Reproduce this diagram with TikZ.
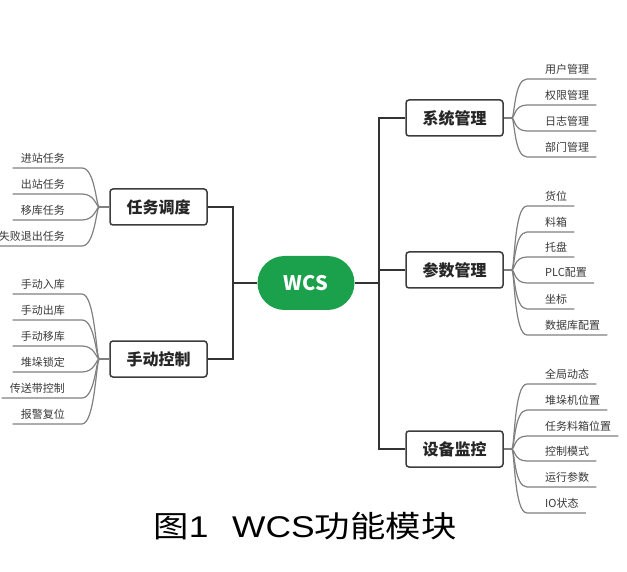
\documentclass[tikz,border=0pt]{standalone}
\usepackage{fontspec}
\setmainfont{Liberation Sans}
\newfontfamily\cjk{Noto Sans CJK SC}
\usetikzlibrary{calc}
\definecolor{wcsgreen}{HTML}{1BA14B}
\definecolor{mainline}{HTML}{333333}
\definecolor{leafline}{HTML}{808080}
\definecolor{boxline}{HTML}{3C3C3C}
\begin{document}
\begin{tikzpicture}[x=1pt,y=-1pt,
  topic/.style={draw=boxline, line width=1.5pt, fill=white, rounded corners=3pt,
    minimum width=97pt, minimum height=36pt, inner sep=0pt,
    font=\cjk\bfseries\fontsize{16}{16}\selectfont, text=black!85},
  root/.style={fill=wcsgreen, rounded corners=27pt, minimum width=97pt, minimum height=54pt,
    inner sep=0pt, text=white, font=\cjk\bfseries\fontsize{20}{20}\selectfont},
  leaf/.style={inner sep=0pt, text=black!78, font=\cjk\fontsize{11}{11}\selectfont},
  conn/.style={draw=mainline, line width=2.4pt},
  twig/.style={draw=leafline, line width=1.2pt}
]
\useasboundingbox (0,0) rectangle (627,572);

% root and topics
\node[root] (wcs) at (306,283) {WCS};
\node[topic] (t1) at (158.5,207) {任务调度};
\node[topic] (t2) at (158.5,359) {手动控制};
\node[topic] (t3) at (454.5,118) {系统管理};
\node[topic] (t4) at (454.5,270) {参数管理};
\node[topic] (t5) at (454.5,449) {设备监控};

% main connectors
\coordinate (lb) at (233,283);
\coordinate (rb) at (379,283);
\draw[conn] (wcs.west) -- (lb);
\draw[conn] (t1.east) -| (lb) |- (t2.east);
\draw[conn] (wcs.east) -- (rb);
\draw[conn] (t3.west) -| (rb) |- (t5.west);
\draw[conn] (t4.west) -| (rb);

% junctions
\coordinate (j1) at ($(t1.west)+(-10,0)$);
\coordinate (j2) at ($(t2.west)+(-10,0)$);
\coordinate (j3) at ($(t3.east)+(8,0)$);
\coordinate (j4) at ($(t4.east)+(8,0)$);
\coordinate (j5) at ($(t5.east)+(8,0)$);
\foreach \k in {1,2}{\draw[twig] (t\k.west) -- (j\k);}
\foreach \k in {3,4,5}{\draw[twig] (t\k.east) -- (j\k);}

% left leaves
\foreach \n/\y/\t/\j in {a1/158/进站任务/j1, a2/184/出站任务/j1, a3/210/移库任务/j1, a4/236/失败退出任务/j1,
  b1/284/手动入库/j2, b2/310/手动出库/j2, b3/336/手动移库/j2, b4/362/堆垛锁定/j2, b5/388/传送带控制/j2, b6/414/报警复位/j2}{
  \node[leaf, anchor=east] (\n) at (65,\y) {\t};
  \draw[twig] ([shift={(-8,10)}]\n.west) -- ([shift={(17,10)}]\n.east)
    .. controls +(13,0) and +(-3,0) .. (\j);
}

% right leaves
\foreach \n/\y/\t/\j in {c1/69/用户管理/j3, c2/95/权限管理/j3, c3/121/日志管理/j3, c4/147/部门管理/j3,
  d1/196/货位/j4, d2/222/料箱/j4, d3/247/托盘/j4, d4/273/PLC配置/j4, d5/299/坐标/j4, d6/325/数据库配置/j4,
  e1/374/全局动态/j5, e2/400/堆垛机位置/j5, e3/426/任务料箱位置/j5, e4/451/控制模式/j5, e5/477/运行参数/j5, e6/503/IO状态/j5}{
  \node[leaf, anchor=west] (\n) at (545,\y) {\t};
  \draw[twig] (\j) .. controls +(3,0) and +(-13,0) .. ([shift={(-18,10)}]\n.west)
    -- ([shift={(7,10)}]\n.east);
}

% caption
\node (cap) at (305,526) {\scalebox{1.18}[1]{\fontsize{30}{30}\selectfont{\cjk 图}1\hspace{20pt}WCS{\cjk 功能模块}}};
\end{tikzpicture}
\end{document}
